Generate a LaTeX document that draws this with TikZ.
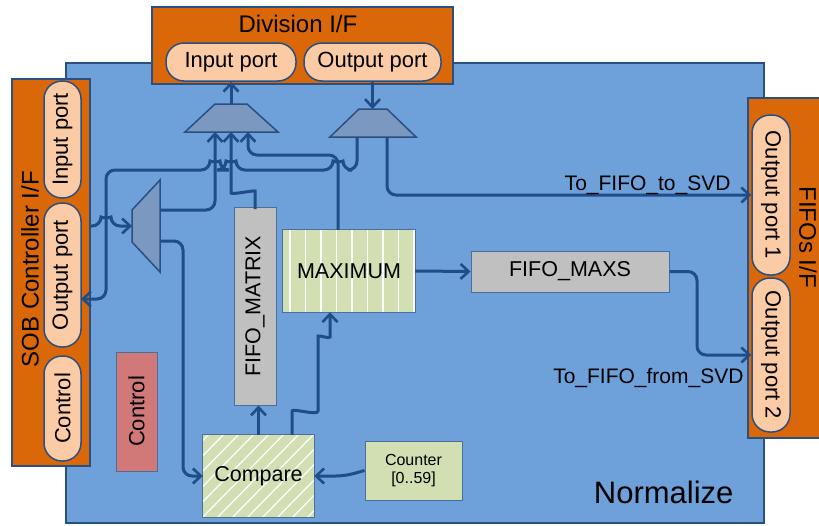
\documentclass[tikz,border=0pt]{standalone}
\usepackage{fontspec}
\setmainfont{Liberation Sans}
\usetikzlibrary{arrows.meta}

\definecolor{ifcol}{HTML}{DA6808}
\definecolor{portcol}{HTML}{FBCBA6}
\definecolor{bgcol}{HTML}{6EA0DA}
\definecolor{edgecol}{HTML}{2A5082}
\definecolor{wirecol}{HTML}{1F4D88}
\definecolor{muxcol}{HTML}{7A98C0}
\definecolor{graycol}{HTML}{C0C0C0}
\definecolor{greencol}{HTML}{D2DFB2}
\definecolor{redcol}{HTML}{D17878}
\definecolor{thincol}{HTML}{4A6F9A}

\begin{document}
\begin{tikzpicture}[x=1pt,y=-1pt,
  fs/.style={font=\fontsize{#1}{#1}\selectfont},
  iface/.style={draw=edgecol,line width=2pt,fill=ifcol,inner sep=0pt},
  port/.style={draw=edgecol,line width=1.5pt,fill=portcol,rounded corners=18pt,inner sep=0pt,fs=22},
  mux/.style={draw=edgecol,line width=1.5pt,fill=muxcol},
  block/.style={draw=thincol,line width=1pt,inner sep=0pt,fs=21.5},
  stripe/.style={white,line width=1.2pt},
  wire/.style={draw=wirecol,line width=3pt,rounded corners=9pt},
  arr/.style={-{Straight Barb[length=8pt,width=15pt,line width=2.6pt]}},
]
\useasboundingbox (0,0) rectangle (819,525);

% Normalize module body
\node[draw=edgecol,line width=2pt,fill=bgcol,minimum width=698pt,minimum height=460pt,inner sep=0pt] (norm) at (415,293) {};
\node[fs=31,anchor=base east] (normlbl) at (737,503) {Normalize};

% Division interface
\node[iface,minimum width=301pt,minimum height=77pt] (divif) at (302.5,45.5) {};
\node[fs=24,anchor=base] (divlbl) at (298,32) {Division I/F};
\node[port,minimum width=130pt,minimum height=38pt] (divin) at (231,62) {Input port};
\node[port,minimum width=137pt,minimum height=38pt] (divout) at (372.5,62) {Output port};

% SOB controller interface
\node[iface,minimum width=78pt,minimum height=387pt] (sobif) at (51,272.5) {};
\node[fs=24,rotate=90] (soblbl) at (30,269) {SOB Controller I/F};
\node[port,rotate=90,minimum width=117pt,minimum height=37pt] (sobin) at (62.5,139.5) {Input port};
\node[port,rotate=90,minimum width=144pt,minimum height=37pt] (sobout) at (62.5,275) {Output port};
\node[port,rotate=90,minimum width=105pt,minimum height=37pt] (sobctl) at (62.5,408.5) {Control};

% FIFOs interface
\node[iface,minimum width=77pt,minimum height=340pt] (fifoif) at (786.5,268) {};
\node[fs=24,rotate=-90] (fifolbl) at (808,237) {FIFOs I/F};
\node[port,rotate=-90,minimum width=160pt,minimum height=38pt] (fout1) at (771,195) {Output port 1};
\node[port,rotate=-90,minimum width=154pt,minimum height=38pt] (fout2) at (771,355) {Output port 2};

% multiplexers
\draw[mux] (215,104) -- (247,104) -- (278,132) -- (185,132) -- cycle;
\draw[mux] (359,109) -- (387,109) -- (416,137) -- (330,137) -- cycle;
\draw[mux] (160,180) -- (160,272) -- (132,242) -- (132,210) -- cycle;
\coordinate (muxAtop) at (231,104);
\coordinate (muxAin1) at (215,132);
\coordinate (muxAin2) at (231,132);
\coordinate (muxAin3) at (248,132);
\coordinate (muxBtop) at (372.5,109);
\coordinate (muxBo1) at (357,137);
\coordinate (muxBo2) at (387,137);
\coordinate (muxCin) at (132,226);
\coordinate (muxCo1) at (160,210);
\coordinate (muxCo2) at (160,241);
\coordinate (sobOutIn) at (81,299);

% processing blocks
\node[block,fill=redcol,rotate=90,minimum width=119pt,minimum height=41pt,fs=22] (ctl) at (136.5,411.5) {Control};
\node[block,fill=graycol,rotate=90,minimum width=198pt,minimum height=42pt] (fmat) at (255,306) {FIFO\_MATRIX};
\node[block,fill=graycol,minimum width=198pt,minimum height=41pt] (fmaxs) at (570,271.5) {FIFO\_MAXS};
\node[block,fill=greencol,minimum width=97pt,minimum height=59pt,fs=16,align=center] (cnt) at (413.5,470.5) {Counter\\[2pt][0..59]};

% MAXIMUM with vertical stripes
\node[fill=greencol,minimum width=132pt,minimum height=82pt,inner sep=0pt] (maxb) at (349,271) {};
\begin{scope}
  \clip (maxb.north west) rectangle (maxb.south east);
  \foreach \x in {290,305.5,...,415} \draw[stripe] (\x,225) -- (\x,320);
\end{scope}
\draw[thincol,line width=1pt] (maxb.north west) rectangle (maxb.south east);
\node[fs=21.5] (maxlbl) at (maxb) {MAXIMUM};

% Compare with diagonal stripes
\node[fill=greencol,minimum width=111pt,minimum height=82pt,inner sep=0pt] (cmp) at (258.5,476) {};
\begin{scope}
  \clip (cmp.north west) rectangle (cmp.south east);
  \foreach \x in {110,125,...,320} \draw[stripe] (\x,520) -- (\x+86,432);
\end{scope}
\draw[thincol,line width=1pt] (cmp.north west) rectangle (cmp.south east);
\node[fs=21.5] (cmplbl) at (cmp) {Compare};

% connections
\draw[wire,arr] (muxAtop) -- (divin.south);
\draw[wire,arr] (divout.south) -- (muxBtop);
\draw[wire,arr] (muxCo1) -- (215,210) -- (muxAin1);
\draw[wire,arr] (fmat.east) -- (255,200) .. controls (255,190) and (231,195) .. (231,184) -- (muxAin2);
\draw[wire,arr] ([xshift=-11pt]maxb.north) -- (338,155) -- (248,155) -- (muxAin3);
\draw[wire,arr] (muxBo1) -- (357,170) -- (343,170)
  .. controls (343,162) and (333,162) .. (333,170) -- (236,170)
  .. controls (236,162) and (226,162) .. (226,170) -- (220,170)
  .. controls (220,162) and (210,162) .. (210,170) -- (106,170) -- (106,299) -- (sobOutIn);
\draw[wire,arr] (muxBo2) -- (387,195) -- (fout1.south);
\node[fs=21,anchor=base east] (tolbl) at (734,190) {To\_FIFO\_to\_SVD};
\draw[wire,arr] (sobif.east |- muxCin) -- (101,226)
  .. controls (101,218) and (111,218) .. (111,226) -- (muxCin);
\draw[wire,arr] (muxCo2) -- (183,241) -- (183,476) -- (cmp.west);
\draw[wire,arr] (cmp.north) -- (cmp.north |- fmat.west);
\draw[wire,arr] ([xshift=33.5pt]cmp.north) -- (292,420) .. controls (292,408) and (318,416) .. (318,402)
  -- (318,345) .. controls (318,335) and (330,339) .. (330,328) -- ([xshift=-19pt]maxb.south);
\draw[wire,arr] (cnt.west) -- (345,476) -- (cmp.east);
\draw[wire,arr] (maxb.east) -- (fmaxs.west);
\draw[wire,arr] (fmaxs.east) -- (697,271.5) -- (697,355) -- (fout2.south);
\node[fs=21,anchor=base east] (fromlbl) at (747,383) {To\_FIFO\_from\_SVD};
\end{tikzpicture}
\end{document}
